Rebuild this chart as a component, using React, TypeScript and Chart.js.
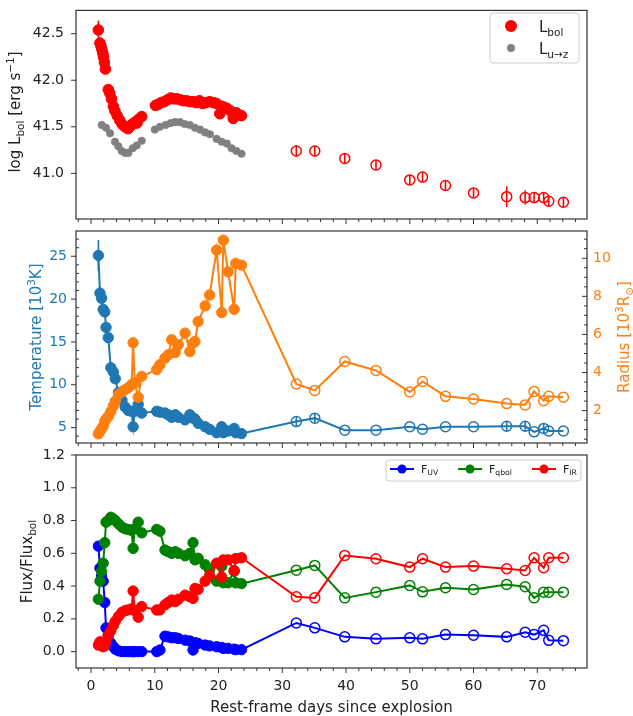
import React, { useEffect, useRef } from "react";
import { Chart, registerables } from "chart.js";
Chart.register(...registerables);

const FONT = "'DejaVu Sans', 'Liberation Sans', sans-serif";
const W = 633;
const H = 726;
const OFF = 10;

const RED = "#ff0000";
const GRAY = "#808080";
const TBLUE = "#1f77b4";
const ORANGE = "#ff7f0e";
const BLUE = "#0000ff";
const GREEN = "#008000";
const TXT = "#222222";
const SPINE = "#333333";
const NONE = "rgba(0,0,0,0)";

// ---------------- shared x axis ----------------
const X_MIN = -2.36;
const X_MAX = 77.8;
const X_TICKS = [0, 10, 20, 30, 40, 50, 60, 70];

// ---------------- panel 1: luminosity ----------------
const LBOL_TICKS = [41.0, 41.5, 42.0, 42.5];
const LBOL_DAYS = [
  1.15, 1.4, 1.55, 1.7, 1.85, 1.95, 2.1, 2.25, 2.7, 2.95, 3.2, 3.5, 3.75, 4.1, 4.5, 4.85, 5.3, 5.8, 6.2, 6.5,
  6.9, 7.2, 7.45, 7.95, 10.1, 10.5, 11.0, 11.5, 12.0, 12.5, 13.0, 13.5, 14.0, 14.5, 15.0, 15.5, 16.0, 16.5,
  17.0, 17.5, 18.0, 18.6, 19.2, 19.7, 20.2, 20.6, 21.3, 21.9, 22.3, 22.8, 23.6,
];
const LBOL_VALS = [
  42.54, 42.4, 42.37, 42.33, 42.29, 42.25, 42.19, 42.12, 41.9, 41.86, 41.8, 41.72, 41.67, 41.62, 41.57, 41.53,
  41.5, 41.48, 41.51, 41.53, 41.55, 41.54, 41.58, 41.61, 41.73, 41.74, 41.76, 41.77, 41.79, 41.81, 41.8, 41.8,
  41.79, 41.78, 41.78, 41.77, 41.77, 41.76, 41.78, 41.75, 41.76, 41.77, 41.76, 41.75, 41.64, 41.72, 41.7, 41.67,
  41.59, 41.65, 41.62,
];
const LBOL_ERR = [0.1];
const LUZ_DAYS = [
  1.68, 2.35, 2.98, 3.76, 4.28, 4.81, 5.35, 5.85, 6.54, 7.16, 7.95, 10.0, 10.8, 11.7, 12.5, 13.2, 13.95, 14.7,
  15.5, 16.3, 17.1, 17.9, 18.65, 19.7, 20.5, 21.3, 22.05, 22.8, 23.6,
];
const LUZ_VALS = [
  41.52, 41.49, 41.43, 41.34, 41.29, 41.24, 41.22, 41.22, 41.27, 41.3, 41.35, 41.47, 41.5, 41.52, 41.54, 41.55,
  41.55, 41.53, 41.52, 41.49, 41.47, 41.44, 41.42, 41.37, 41.34, 41.32, 41.27, 41.24, 41.21,
];
const LATE_DAYS = [32.2, 35.1, 39.8, 44.7, 50.0, 52.0, 55.6, 60.0, 65.2, 68.1, 69.5, 71.0, 71.8, 74.1];
const LBOL_LATE = [41.24, 41.24, 41.16, 41.09, 40.93, 40.96, 40.87, 40.79, 40.75, 40.74, 40.74, 40.74, 40.7, 40.69];
const LBOL_LATE_ERR = [0.06, 0.06, 0.05, 0.05, 0.05, 0.05, 0.05, 0.05, 0.11, 0.075, 0.06, 0.06, 0.05, 0.05];

// ---------------- panel 2: temperature / radius ----------------
const TEMP_TICKS = [5, 10, 15, 20, 25];
const RAD_TICKS = [2, 4, 6, 8, 10];
const EARLY_DAYS = [
  1.15, 1.4, 1.65, 1.9, 2.15, 2.35, 2.7, 3.1, 3.5, 3.8, 4.3, 4.85, 5.35, 5.85, 6.35, 6.6, 6.85, 7.4, 7.95,
  10.3, 10.8, 11.6, 12.1, 12.65, 13.2, 13.7, 14.75, 15.5, 16.0, 16.3, 16.8, 17.9, 18.6, 19.7, 20.5, 20.75, 21.5,
  22.45, 22.7, 23.6,
];
const TEMP_EARLY = [
  25.1, 20.7, 20.1, 18.8, 18.5, 16.7, 15.5, 12.0, 11.5, 10.7, 9.1, 8.2, 7.4, 7.0, 6.9, 5.1, 6.9, 7.7, 6.7,
  6.9, 6.8, 6.7, 6.5, 6.2, 6.5, 6.2, 5.9, 6.5, 6.1, 6.0, 5.5, 5.1, 4.8, 4.4, 5.1, 4.4, 4.6, 4.9, 4.4, 4.3,
];
const TEMP_LATE = [5.7, 6.1, 4.7, 4.7, 5.1, 4.8, 5.1, 5.1, 5.15, 5.15, 4.5, 4.9, 4.6, 4.6];
const TEMP_ERR_EARLY = [1.8];
const TEMP_ERR_LATE = [0.6, 0.6, 0, 0, 0, 0, 0, 0, 0.6, 0.6, 0, 0.6, 0, 0];
const RAD_EARLY = [
  0.78, 0.92, 1.05, 1.18, 1.44, 1.55, 1.7, 1.95, 2.25, 2.5, 2.84, 3.0, 3.1, 3.2, 3.36, 5.56, 3.45, 2.7, 3.8,
  4.15, 4.41, 4.76, 4.93, 5.72, 5.05, 5.46, 6.07, 5.1, 5.55, 5.63, 6.68, 7.5, 8.07, 10.43, 7.15, 10.95, 9.29,
  7.32, 9.73, 9.64,
];
const RAD_LATE = [3.4, 3.06, 4.58, 4.11, 2.98, 3.53, 2.75, 2.61, 2.37, 2.3, 3.01, 2.52, 2.75, 2.7];

// ---------------- panel 3: flux fractions ----------------
const FRAC_TICKS = [0, 0.2, 0.4, 0.6, 0.8, 1.0, 1.2];
const UV_EARLY = [
  0.644, 0.51, 0.46, 0.43, 0.3, 0.145, 0.1, 0.053, 0.03, 0.015, 0.005, 0, 0, 0, 0, 0, 0, 0, 0,
  0, 0.01, 0.094, 0.09, 0.085, 0.085, 0.08, 0.07, 0.065, 0.01, 0.055, 0.05, 0.04, 0.035, 0.03, 0.025, 0.02,
  0.02, 0.015, 0.012, 0.012,
];
const UV_LATE = [0.175, 0.145, 0.09, 0.078, 0.084, 0.078, 0.104, 0.1, 0.09, 0.118, 0.104, 0.13, 0.069, 0.067];
const QBOL_EARLY = [
  0.32, 0.43, 0.49, 0.54, 0.665, 0.79, 0.8, 0.82, 0.81, 0.8, 0.78, 0.76, 0.75, 0.745, 0.74, 0.63, 0.75, 0.79,
  0.725, 0.746, 0.735, 0.62, 0.61, 0.6, 0.61, 0.6, 0.585, 0.6, 0.665, 0.56, 0.57, 0.53, 0.5, 0.43, 0.52, 0.42,
  0.42, 0.49, 0.42, 0.415,
];
const QBOL_LATE = [0.497, 0.526, 0.328, 0.363, 0.404, 0.365, 0.39, 0.379, 0.41, 0.396, 0.328, 0.363, 0.363, 0.363];
const IR_EARLY = [
  0.04, 0.06, 0.05, 0.03, 0.035, 0.065, 0.1, 0.127, 0.16, 0.185, 0.215, 0.24, 0.25, 0.255, 0.26, 0.37, 0.25,
  0.21, 0.275, 0.254, 0.255, 0.286, 0.3, 0.315, 0.305, 0.32, 0.345, 0.335, 0.325, 0.385, 0.38, 0.43, 0.465,
  0.54, 0.455, 0.56, 0.56, 0.495, 0.568, 0.573,
];
const IR_LATE = [0.335, 0.328, 0.587, 0.567, 0.516, 0.567, 0.516, 0.522, 0.506, 0.495, 0.573, 0.512, 0.573, 0.573];

// ---------------- helpers ----------------
type Seg = { t: string; s?: "sub" | "sup" };

function drawRich(
  ctx: CanvasRenderingContext2D,
  segs: Seg[],
  x: number,
  y: number,
  size: number,
  color: string,
  rotate = false,
  align: "left" | "center" = "center"
) {
  ctx.save();
  ctx.translate(x, y);
  if (rotate) ctx.rotate(-Math.PI / 2);
  let total = 0;
  for (const g of segs) {
    ctx.font = `${g.s ? size * 0.7 : size}px ${FONT}`;
    total += ctx.measureText(g.t).width;
  }
  let cx = align === "left" ? 0 : -total / 2;
  const base = size * 0.36;
  ctx.fillStyle = color;
  ctx.textBaseline = "alphabetic";
  ctx.textAlign = "left";
  for (const g of segs) {
    const fs = g.s ? size * 0.7 : size;
    ctx.font = `${fs}px ${FONT}`;
    const dy = g.s === "sub" ? size * 0.22 : g.s === "sup" ? -size * 0.42 : 0;
    ctx.fillText(g.t, cx, base + dy);
    cx += ctx.measureText(g.t).width;
  }
  ctx.restore();
}

type TickSpec = {
  axis: string;
  side: "bottom" | "left" | "right";
  major: number[];
  majorLen: number;
  majorDir: "in" | "out";
  minorStep?: number;
  minorLen?: number;
  minorDir?: "in" | "out";
};

function drawTicks(chart: any, spec: TickSpec) {
  const ctx: CanvasRenderingContext2D = chart.ctx;
  const sc = chart.scales[spec.axis];
  const a = chart.chartArea;
  ctx.save();
  ctx.strokeStyle = SPINE;
  ctx.lineWidth = 1;
  const one = (v: number, len: number, dir: "in" | "out") => {
    const p = sc.getPixelForValue(v);
    ctx.beginPath();
    if (spec.side === "bottom") {
      if (p < a.left - 0.5 || p > a.right + 0.5) return;
      const y0 = a.bottom;
      ctx.moveTo(p, y0);
      ctx.lineTo(p, dir === "out" ? y0 + len : y0 - len);
    } else {
      if (p < a.top - 0.5 || p > a.bottom + 0.5) return;
      const x0 = spec.side === "left" ? a.left : a.right;
      const sign = spec.side === "left" ? (dir === "out" ? -1 : 1) : dir === "out" ? 1 : -1;
      ctx.moveTo(x0, p);
      ctx.lineTo(x0 + sign * len, p);
    }
    ctx.stroke();
  };
  spec.major.forEach((v) => one(v, spec.majorLen, spec.majorDir));
  if (spec.minorStep) {
    const st = spec.minorStep;
    const start = Math.ceil(sc.min / st) * st;
    for (let k = 0; start + k * st <= sc.max; k++) {
      const v = start + k * st;
      if (spec.major.some((m) => Math.abs(m - v) < st * 0.01)) continue;
      one(v, spec.minorLen || 3, spec.minorDir || "out");
    }
  }
  ctx.restore();
}

function drawErrors(chart: any) {
  const ctx: CanvasRenderingContext2D = chart.ctx;
  const xs = chart.scales.x;
  chart.data.datasets.forEach((ds: any) => {
    if (!ds.errs) return;
    const ys = chart.scales[ds.yAxisID || "y"];
    ctx.save();
    ctx.strokeStyle = ds.pointBorderColor;
    ctx.lineWidth = 1.6;
    ds.data.forEach((pt: any, i: number) => {
      const e = ds.errs[i] || 0;
      if (!e) return;
      const px = xs.getPixelForValue(pt.x);
      ctx.beginPath();
      ctx.moveTo(px, ys.getPixelForValue(pt.y - e));
      ctx.lineTo(px, ys.getPixelForValue(pt.y + e));
      ctx.stroke();
    });
    ctx.restore();
  });
}

function drawSpine(chart: any) {
  const ctx: CanvasRenderingContext2D = chart.ctx;
  const a = chart.chartArea;
  ctx.save();
  ctx.strokeStyle = SPINE;
  ctx.lineWidth = 1.2;
  ctx.strokeRect(a.left, a.top, a.right - a.left, a.bottom - a.top);
  ctx.restore();
}

function legendBox(ctx: CanvasRenderingContext2D, x: number, y: number, w: number, h: number) {
  const r = 3;
  ctx.save();
  ctx.beginPath();
  ctx.moveTo(x + r, y);
  ctx.lineTo(x + w - r, y);
  ctx.arcTo(x + w, y, x + w, y + r, r);
  ctx.lineTo(x + w, y + h - r);
  ctx.arcTo(x + w, y + h, x + w - r, y + h, r);
  ctx.lineTo(x + r, y + h);
  ctx.arcTo(x, y + h, x, y + h - r, r);
  ctx.lineTo(x, y + r);
  ctx.arcTo(x, y, x + r, y, r);
  ctx.closePath();
  ctx.fillStyle = "rgba(255,255,255,0.8)";
  ctx.fill();
  ctx.strokeStyle = "#cccccc";
  ctx.lineWidth = 1;
  ctx.stroke();
  ctx.restore();
}

function dot(ctx: CanvasRenderingContext2D, x: number, y: number, r: number, color: string) {
  ctx.save();
  ctx.beginPath();
  ctx.arc(x, y, r, 0, Math.PI * 2);
  ctx.fillStyle = color;
  ctx.fill();
  ctx.restore();
}

const zip = (xs: number[], ys: number[]) => xs.map((x, i) => ({ x, y: ys[i] }));

function xScale(showLabels: boolean, height: number) {
  return {
    type: "linear",
    min: X_MIN,
    max: X_MAX,
    afterBuildTicks: (s: any) => {
      s.ticks = X_TICKS.map((v) => ({ value: v }));
    },
    ticks: {
      display: showLabels,
      color: TXT,
      font: { family: FONT, size: 14 },
      padding: 10,
      maxRotation: 0,
      autoSkip: false,
      callback: (v: any) => String(v),
    },
    grid: { display: false, drawTicks: false },
    border: { display: false },
    afterFit: (s: any) => {
      s.height = height;
    },
  };
}

function yScale(
  min: number,
  max: number,
  ticks: number[],
  fmt: (v: number) => string,
  color: string,
  padding: number,
  position: "left" | "right",
  width: number
) {
  return {
    type: "linear",
    position,
    min,
    max,
    afterBuildTicks: (s: any) => {
      s.ticks = ticks.map((v) => ({ value: v }));
    },
    ticks: {
      color,
      font: { family: FONT, size: 14 },
      padding,
      autoSkip: false,
      callback: (v: any) => fmt(Number(v)),
    },
    grid: { display: false, drawTicks: false },
    border: { display: false },
    afterFit: (s: any) => {
      s.width = width;
    },
  };
}

function baseOptions(padding: any) {
  return {
    responsive: false,
    maintainAspectRatio: false,
    animation: false,
    events: [] as any[],
    layout: { padding },
    plugins: { legend: { display: false }, tooltip: { enabled: false } },
  };
}

function mixed(
  early: number[],
  late: number[],
  color: string,
  yAxisID: string,
  errs?: number[]
) {
  const days = [...EARLY_DAYS, ...LATE_DAYS];
  const vals = [...early, ...late];
  const n = EARLY_DAYS.length;
  return {
    data: zip(days, vals),
    yAxisID,
    showLine: true,
    borderColor: color,
    borderWidth: 2,
    pointRadius: days.map((_, i) => (i < n ? 5.2 : 5)),
    pointBorderColor: color,
    pointBackgroundColor: days.map((_, i) => (i < n ? color : NONE)),
    pointBorderWidth: days.map((_, i) => (i < n ? 1 : 1.5)),
    errs,
  };
}

// ---------------- chart configs ----------------
function config1(): any {
  return {
    type: "scatter",
    data: {
      datasets: [
        {
          data: zip(LBOL_DAYS, LBOL_VALS),
          pointRadius: 5.3,
          pointBackgroundColor: RED,
          pointBorderColor: RED,
          pointBorderWidth: 1,
          errs: LBOL_ERR,
        },
        {
          data: zip(LATE_DAYS, LBOL_LATE),
          pointRadius: 5,
          pointBackgroundColor: NONE,
          pointBorderColor: RED,
          pointBorderWidth: 1.5,
          errs: LBOL_LATE_ERR,
        },
        {
          data: zip(LUZ_DAYS, LUZ_VALS),
          pointRadius: 3.8,
          pointBackgroundColor: GRAY,
          pointBorderColor: GRAY,
          pointBorderWidth: 0.5,
        },
      ],
    },
    options: {
      ...baseOptions({ left: 0, right: 46, top: 15, bottom: H - 229 - 10 }),
      scales: {
        x: xScale(false, 10),
        y: yScale(40.51, 42.75, LBOL_TICKS, (v) => v.toFixed(1), TXT, 12, "left", 76),
      },
    },
    plugins: [
      {
        id: "p1",
        beforeDatasetsDraw: (c: any) => drawErrors(c),
        afterDatasetsDraw: (c: any) => {
          drawSpine(c);
          drawTicks(c, { axis: "x", side: "bottom", major: X_TICKS, majorLen: 5, majorDir: "out", minorStep: 2, minorLen: 3, minorDir: "out" });
          drawTicks(c, { axis: "y", side: "left", major: LBOL_TICKS, majorLen: 5, majorDir: "out" });
        },
        afterDraw: (c: any) => {
          const ctx = c.ctx;
          drawRich(ctx, [{ t: "log L" }, { t: "bol", s: "sub" }, { t: " [erg s" }, { t: "−1", s: "sup" }, { t: "]" }], 15, 112 + OFF, 15, TXT, true);
          legendBox(ctx, 490, 13 + OFF, 89, 50);
          dot(ctx, 511, 26 + OFF, 6, RED);
          dot(ctx, 511, 48 + OFF, 4, GRAY);
          drawRich(ctx, [{ t: "L" }, { t: "bol", s: "sub" }], 539, 27 + OFF, 15, TXT, false, "left");
          drawRich(ctx, [{ t: "L" }, { t: "u→z", s: "sub" }], 539, 49 + OFF, 15, TXT, false, "left");
        },
      },
    ],
  };
}

function config2(): any {
  return {
    type: "scatter",
    data: {
      datasets: [
        mixed(RAD_EARLY, RAD_LATE, ORANGE, "y2"),
        mixed(TEMP_EARLY, TEMP_LATE, TBLUE, "y", [...TEMP_ERR_EARLY, ...new Array(EARLY_DAYS.length - TEMP_ERR_EARLY.length).fill(0), ...TEMP_ERR_LATE]),
      ],
    },
    options: {
      ...baseOptions({ left: 0, right: 0, top: 241, bottom: H - 453 - 10 }),
      scales: {
        x: xScale(false, 10),
        y: yScale(3.2, 27.95, TEMP_TICKS, (v) => String(v), TBLUE, 9, "left", 76),
        y2: yScale(0.3, 11.43, RAD_TICKS, (v) => String(v), ORANGE, 6, "right", 46),
      },
    },
    plugins: [
      {
        id: "p2",
        beforeDatasetsDraw: (c: any) => drawErrors(c),
        afterDatasetsDraw: (c: any) => {
          drawSpine(c);
          drawTicks(c, { axis: "x", side: "bottom", major: X_TICKS, majorLen: 5, majorDir: "out", minorStep: 2, minorLen: 3, minorDir: "out" });
          drawTicks(c, { axis: "y", side: "left", major: TEMP_TICKS, majorLen: 5, majorDir: "out", minorStep: 1, minorLen: 3, minorDir: "in" });
          drawTicks(c, { axis: "y2", side: "right", major: RAD_TICKS, majorLen: 5, majorDir: "in", minorStep: 0.5, minorLen: 3, minorDir: "in" });
        },
        afterDraw: (c: any) => {
          const ctx = c.ctx;
          drawRich(ctx, [{ t: "Temperature [10" }, { t: "3", s: "sup" }, { t: "K]" }], 36, 337 + OFF, 15, TBLUE, true);
          drawRich(ctx, [{ t: "Radius [10" }, { t: "3", s: "sup" }, { t: "R" }, { t: "⊙", s: "sub" }, { t: "]" }], 624, 337 + OFF, 15, ORANGE, true);
        },
      },
    ],
  };
}

function config3(): any {
  return {
    type: "scatter",
    data: {
      datasets: [
        mixed(IR_EARLY, IR_LATE, RED, "y"),
        mixed(QBOL_EARLY, QBOL_LATE, GREEN, "y"),
        mixed(UV_EARLY, UV_LATE, BLUE, "y"),
      ],
    },
    options: {
      ...baseOptions({ left: 0, right: 46, top: 465, bottom: H - 678 - 40 }),
      scales: {
        x: xScale(true, 40),
        y: yScale(-0.1, 1.2, FRAC_TICKS, (v) => v.toFixed(1), TXT, 11, "left", 76),
      },
    },
    plugins: [
      {
        id: "p3",
        afterDatasetsDraw: (c: any) => {
          drawSpine(c);
          drawTicks(c, { axis: "x", side: "bottom", major: X_TICKS, majorLen: 5, majorDir: "out", minorStep: 2, minorLen: 3, minorDir: "out" });
          drawTicks(c, { axis: "y", side: "left", major: FRAC_TICKS, majorLen: 5, majorDir: "out" });
        },
        afterDraw: (c: any) => {
          const ctx = c.ctx;
          drawRich(ctx, [{ t: "Flux/Flux" }, { t: "bol", s: "sub" }], 27, 561.5 + OFF, 15, TXT, true);
          drawRich(ctx, [{ t: "Rest-frame days since explosion" }], 331.5, 707 + OFF, 15, TXT, false);
          legendBox(ctx, 386, 460 + OFF, 195, 21);
          const items: [number, string, Seg[]][] = [
            [390, BLUE, [{ t: "F" }, { t: "UV", s: "sub" }]],
            [458, GREEN, [{ t: "F" }, { t: "qbol", s: "sub" }]],
            [532, RED, [{ t: "F" }, { t: "IR", s: "sub" }]],
          ];
          const cy = 469 + OFF;
          items.forEach(([x0, col, segs]) => {
            ctx.save();
            ctx.strokeStyle = col;
            ctx.lineWidth = 2;
            ctx.beginPath();
            ctx.moveTo(x0, cy);
            ctx.lineTo(x0 + 24, cy);
            ctx.stroke();
            ctx.restore();
            dot(ctx, x0 + 12, cy, 4.5, col);
            drawRich(ctx, segs, x0 + 31, cy, 11, TXT, false, "left");
          });
        },
      },
    ],
  };
}

export default function App() {
  const r1 = useRef<HTMLCanvasElement>(null);
  const r2 = useRef<HTMLCanvasElement>(null);
  const r3 = useRef<HTMLCanvasElement>(null);

  useEffect(() => {
    Chart.defaults.font.family = FONT;
    const charts = [
      new Chart(r1.current as HTMLCanvasElement, config1()),
      new Chart(r2.current as HTMLCanvasElement, config2()),
      new Chart(r3.current as HTMLCanvasElement, config3()),
    ];
    return () => charts.forEach((c) => c.destroy());
  }, []);

  const cs: React.CSSProperties = { position: "absolute", left: 0, top: 0, width: W, height: H };
  return (
    <div
      style={{ position: "absolute", left: 0, top: -OFF, width: W, height: H, background: "#ffffff", overflow: "hidden" }}
    >
      <canvas ref={r1} width={W} height={H} style={cs} />
      <canvas ref={r2} width={W} height={H} style={cs} />
      <canvas ref={r3} width={W} height={H} style={cs} />
    </div>
  );
}
